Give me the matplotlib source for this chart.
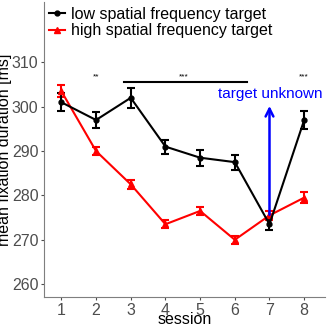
import numpy as np
import matplotlib.pyplot as plt
from matplotlib.lines import Line2D

plt.rcParams['font.family'] = ['Liberation Sans', 'DejaVu Sans']

sessions = np.arange(1, 9)
low_sf = [301, 297, 302, 291, 288.5, 287.5, 273.5, 297]
low_err = [2.0, 1.8, 2.2, 1.6, 1.8, 1.7, 1.3, 2.0]
high_sf = [303.5, 290, 282.5, 273.5, 276.5, 270, 275.5, 279.5]
high_err = [1.3, 1.0, 1.0, 0.9, 1.0, 0.9, 1.0, 1.3]

fig = plt.figure(figsize=(3.27, 3.27), dpi=100)
ax = fig.add_axes([44/327, 30/327, 281/327, 295/327])

ax.errorbar(sessions, high_sf, yerr=high_err, color='red', marker='^', ms=4,
            lw=1.5, capsize=2.7, elinewidth=1.5, capthick=1.5)
ax.errorbar(sessions, low_sf, yerr=low_err, color='black', marker='o', ms=3.5,
            lw=1.5, capsize=2.7, elinewidth=1.5, capthick=1.5)

# significance markers
ax.text(2, 306.0, '**', ha='center', va='bottom', fontsize=6)
ax.plot([2.82, 6.36], [305.55, 305.55], color='black', lw=1.5)
ax.text(4.52, 306.0, '***', ha='center', va='bottom', fontsize=6)
ax.text(8, 306.0, '***', ha='center', va='bottom', fontsize=6)

# target unknown arrow
ax.annotate('', xy=(7, 300.8), xytext=(7, 275),
            arrowprops=dict(arrowstyle='->', color='blue', lw=1.8,
                            mutation_scale=14))
ax.text(7.03, 302.9, 'target unknown', color='blue', ha='center',
        va='center', fontsize=11)

ax.set_xlim(0.5, 8.6)
ax.set_ylim(257.1, 323.6)
ax.set_xticks(sessions)
ax.set_yticks([260, 270, 280, 290, 300, 310])
ax.tick_params(labelsize=11.5, labelcolor='#4d4d4d', color='#4d4d4d',
               length=2.5, pad=1.5)
for s in ['top', 'right']:
    ax.spines[s].set_visible(False)
for s in ['left', 'bottom']:
    ax.spines[s].set_color('#7f7f7f')
ax.set_xlabel('session', fontsize=11.5)
ax.xaxis.set_label_coords(0.5, -15.5/295)
ax.set_ylabel('mean fixation duration [ms]', fontsize=11.5)
ax.yaxis.set_label_coords(-32/281, 0.5)

handles = [Line2D([], [], color='black', marker='o', ms=3.5, lw=1.5),
           Line2D([], [], color='red', marker='^', ms=4, lw=1.5)]
labels = ['low spatial frequency target', 'high spatial frequency target']
ax.legend(handles, labels, loc='upper left', frameon=False, fontsize=11.5,
          handlelength=1.0, handletextpad=0.37, borderaxespad=0.0,
          borderpad=0.3, labelspacing=0.1, bbox_to_anchor=(0.0, 1.0))

fig.savefig('out.png', dpi=100)
